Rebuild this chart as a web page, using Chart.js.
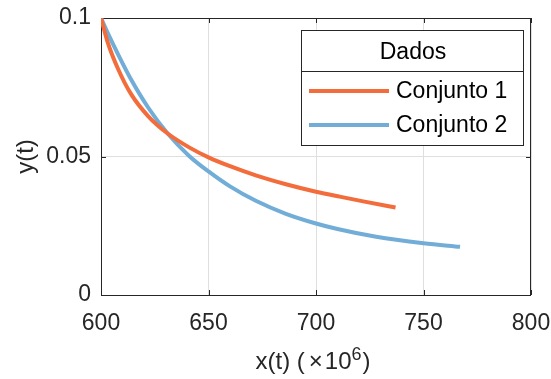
<!DOCTYPE html>
<html lang="pt">
<head>
    <meta charset="UTF-8">
    <script src="https://cdn.jsdelivr.net/npm/chart.js"></script>
    <style>
        body { margin: 0; background: #fff; }
        .wrap { width: 551px; height: 379px; position: relative; }
    </style>
</head>
<body>
    <div class="wrap"><canvas id="chart"></canvas></div>
    <script>
        // tick values
        const xTicks = [600, 650, 700, 750, 800];
        const yTicks = [0, 0.05, 0.1];

        // Conjunto 1
        const x1 = [600, 603, 608, 614, 622, 631, 641, 650, 660, 672, 686, 700, 711, 722, 737];
        const y1 = [0.1, 0.0915, 0.0815, 0.0725, 0.0645, 0.0583, 0.0533, 0.0497, 0.0465, 0.0432, 0.0400, 0.0373, 0.0355, 0.0338, 0.0316];

        // Conjunto 2
        const x2 = [600, 603, 608, 614, 622, 631, 641, 650, 660, 672, 686, 700, 710, 728, 750, 767];
        const y2 = [0.1, 0.0948, 0.0868, 0.0778, 0.0676, 0.0583, 0.0502, 0.0446, 0.0392, 0.0340, 0.0293, 0.0258, 0.0238, 0.0210, 0.0187, 0.0174];

        const seriesNames = ['Conjunto 1', 'Conjunto 2'];
        const seriesColors = ['#F26C3C', '#72ADD7'];
        const legendTitle = 'Dados';

        const FONT = '"Liberation Sans", Arial, sans-serif';
        const AXIS = '#262626';

        const toPoints = (xs, ys) => xs.map((v, i) => ({ x: v, y: ys[i] }));

        // box, inward ticks, axis titles, legend
        const framePlugin = {
            id: 'frame',
            beforeDatasetsDraw(chart) {
                const { ctx, chartArea: a, scales: { x, y } } = chart;
                ctx.save();
                ctx.strokeStyle = AXIS;
                ctx.lineWidth = 1;
                ctx.strokeRect(a.left + 0.5, a.top + 0.5, a.right - a.left - 1, a.bottom - a.top);
                ctx.beginPath();
                xTicks.forEach(v => {
                    const px = Math.round(x.getPixelForValue(v)) + 0.5;
                    ctx.moveTo(px, a.bottom); ctx.lineTo(px, a.bottom - 5);
                    ctx.moveTo(px, a.top); ctx.lineTo(px, a.top + 5);
                });
                yTicks.forEach(v => {
                    const py = Math.round(y.getPixelForValue(v)) + 0.5;
                    ctx.moveTo(a.left, py); ctx.lineTo(a.left + 5, py);
                    ctx.moveTo(a.right, py); ctx.lineTo(a.right - 5, py);
                });
                ctx.stroke();
                ctx.restore();
            },
            afterDraw(chart) {
                const { ctx, chartArea: a } = chart;
                ctx.save();
                ctx.fillStyle = AXIS;
                ctx.textBaseline = 'alphabetic';

                // y title
                ctx.save();
                ctx.translate(33, (a.top + a.bottom) / 2);
                ctx.rotate(-Math.PI / 2);
                ctx.font = '24px ' + FONT;
                ctx.textAlign = 'center';
                ctx.fillText('y(t)', 0, 0);
                ctx.restore();

                // x title with superscript
                const base = 369;
                ctx.font = '24px ' + FONT;
                const p1 = 'x(t) (';
                const p2 = '\u00D7';
                const p3 = '10';
                const p5 = ')';
                const w1 = ctx.measureText(p1).width;
                const w2 = ctx.measureText(p2).width;
                const w3 = ctx.measureText(p3).width;
                const w5 = ctx.measureText(p5).width;
                ctx.font = '18px ' + FONT;
                const w4 = ctx.measureText('6').width;
                const gap = 4;
                const total = w1 + gap + w2 + 2 + w3 + w4 + 1 + w5;
                let cx = (a.left + a.right) / 2 - total / 2 - 3;
                ctx.textAlign = 'left';
                ctx.font = '24px ' + FONT;
                ctx.fillText(p1, cx, base); cx += w1 + gap;
                ctx.fillText(p2, cx, base); cx += w2 + 2;
                ctx.fillText(p3, cx, base); cx += w3;
                ctx.font = '18px ' + FONT;
                ctx.fillText('6', cx, base - 9); cx += w4 + 1;
                ctx.font = '24px ' + FONT;
                ctx.fillText(p5, cx, base);

                // legend
                const lw = 222, lh = 115;
                const lx = a.right - 8 - lw, ly = a.top + 12;
                ctx.fillStyle = '#fff';
                ctx.fillRect(lx, ly, lw, lh);
                ctx.strokeStyle = AXIS;
                ctx.lineWidth = 1;
                ctx.strokeRect(lx + 0.5, ly + 0.5, lw, lh);
                ctx.beginPath();
                ctx.moveTo(lx, ly + 41.5); ctx.lineTo(lx + lw, ly + 41.5);
                ctx.stroke();
                ctx.fillStyle = '#000';
                ctx.font = '23px ' + FONT;
                ctx.textAlign = 'center';
                ctx.textBaseline = 'middle';
                ctx.fillText(legendTitle, lx + lw / 2 + 1, ly + 23);
                ctx.textAlign = 'left';
                const rows = [ly + 61, ly + 95];
                seriesNames.forEach((name, i) => {
                    ctx.strokeStyle = seriesColors[i];
                    ctx.lineWidth = 4;
                    ctx.beginPath();
                    ctx.moveTo(lx + 8, rows[i]); ctx.lineTo(lx + 88, rows[i]);
                    ctx.stroke();
                    ctx.fillStyle = '#000';
                    ctx.fillText(name, lx + 95, rows[i] + 1);
                });
                ctx.restore();
            }
        };

        const ctx = document.getElementById('chart').getContext('2d');
        new Chart(ctx, {
            type: 'line',
            data: {
                datasets: [
                    {
                        label: seriesNames[0],
                        data: toPoints(x1, y1),
                        borderColor: seriesColors[0],
                        borderWidth: 4,
                        pointRadius: 0,
                        cubicInterpolationMode: 'monotone',
                        fill: false
                    },
                    {
                        label: seriesNames[1],
                        data: toPoints(x2, y2),
                        borderColor: seriesColors[1],
                        borderWidth: 4,
                        pointRadius: 0,
                        cubicInterpolationMode: 'monotone',
                        fill: false
                    }
                ]
            },
            options: {
                responsive: true,
                maintainAspectRatio: false,
                animation: false,
                layout: { padding: { left: 0, top: 18, right: 20, bottom: 0 } },
                plugins: {
                    legend: { display: false },
                    tooltip: { enabled: false }
                },
                scales: {
                    x: {
                        type: 'linear',
                        min: 600,
                        max: 800,
                        afterBuildTicks: s => { s.ticks = xTicks.map(v => ({ value: v })); },
                        afterFit: s => { s.height = 84; s.paddingLeft = 0; s.paddingRight = 0; },
                        grid: { color: '#dfdfdf', drawTicks: false },
                        border: { display: false },
                        ticks: {
                            padding: 15,
                            color: AXIS,
                            font: { family: FONT, size: 23 },
                            maxRotation: 0,
                            callback: v => String(v)
                        }
                    },
                    y: {
                        type: 'linear',
                        min: 0,
                        max: 0.1,
                        afterBuildTicks: s => { s.ticks = yTicks.map(v => ({ value: v })); },
                        afterFit: s => { s.width = 101; s.paddingTop = 0; s.paddingBottom = 0; },
                        grid: { color: '#dfdfdf', drawTicks: false },
                        border: { display: false },
                        ticks: {
                            padding: 10,
                            color: AXIS,
                            font: { family: FONT, size: 23 },
                            callback: v => String(Math.round(v * 100) / 100)
                        }
                    }
                }
            },
            plugins: [framePlugin]
        });
    </script>
</body>
</html>
